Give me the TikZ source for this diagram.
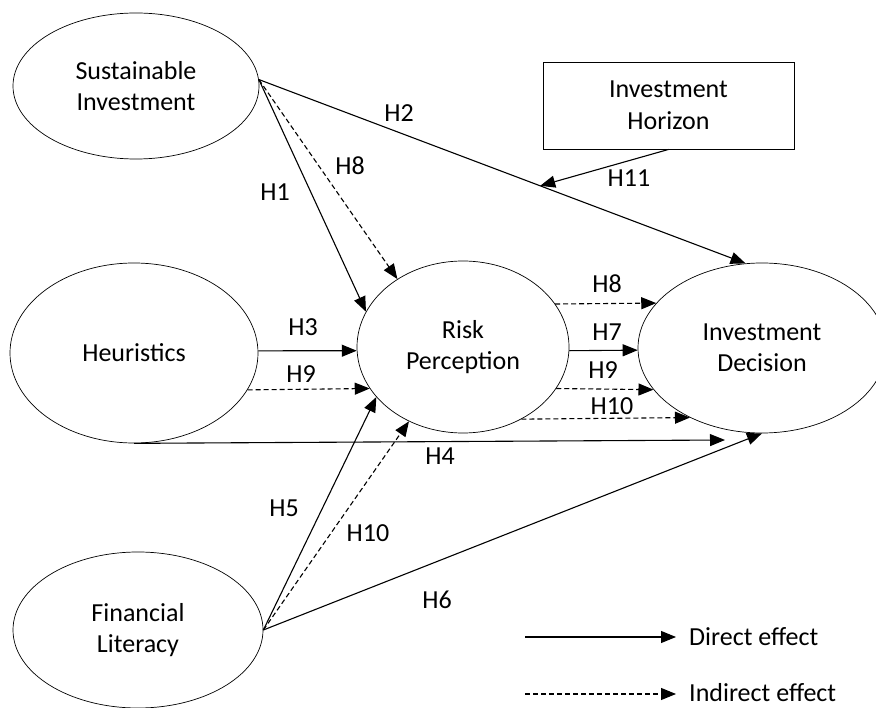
\documentclass[tikz,border=0pt]{standalone}
\usepackage{fontspec}
\setmainfont{Carlito}
\usetikzlibrary{arrows.meta,shapes.geometric}
\begin{document}
\begin{tikzpicture}[x=1pt,y=-1pt,
  ell/.style={draw, ellipse, line width=0.7pt, inner sep=0pt, align=center, font=\fontsize{26}{31.5}\selectfont},
  box/.style={draw, rectangle, line width=0.9pt, inner sep=0pt, align=center, font=\fontsize{26}{31.5}\selectfont},
  lbl/.style={font=\fontsize{26}{31.5}\selectfont, inner sep=0pt},
  dir/.style={line width=1.1pt, -{Triangle[length=15pt,width=12pt]}},
  ind/.style={dir, dash pattern=on 5pt off 3pt}]
\useasboundingbox (0,0) rectangle (876,708);
\fill[white] (0,0) rectangle (876,708);

% constructs
\node[ell, minimum width=246pt, minimum height=146pt] (si) at (136,86) {Sustainable\\Investment};
\node[ell, minimum width=248pt, minimum height=180pt] (he) at (134,353) {Heuristics};
\node[ell, minimum width=250pt, minimum height=156pt] (fl) at (138,630) {Financial\\Literacy};
\node[ell, minimum width=212pt, minimum height=172pt] (rp) at (463,347) {Risk\\Perception};
\node[ell, minimum width=248pt, minimum height=170pt] (id) at (762,348) {Investment\\Decision};
\node[box, minimum width=251pt, minimum height=87pt] (ih) at (668.5,105.5) {Investment\\Horizon};

% paths
\draw[dir] (si.3) -- (id.101) coordinate[pos=0.578] (h11end);
\draw[dir] (ih.south) -- (h11end);
\draw[dir] (si.3) -- (rp.160);
\draw[ind] (si.3) -- (rp.134);
\draw[dir] (he.1) -- (rp.182);
\draw[ind] (he.342) -- (rp.204);
\coordinate (h4end) at (725,440);
\draw[dir] (he.south) -- (h4end);
\draw[dir] (fl.east) -- (rp.210);
\draw[ind] (fl.east) -- (rp.234);
\draw[dir] (fl.east) -- (id.south);
\draw[ind] (rp.25) -- (id.157);
\draw[dir] (rp.358) -- (id.181);
\draw[ind] (rp.336) -- (id.201);
\draw[ind] (rp.309) -- (id.224);

% labels
\node[lbl] (l2) at (399,113) {H2};
\node[lbl] (l8a) at (350,166) {H8};
\node[lbl] (l1) at (275,192) {H1};
\node[lbl] (l11) at (629,178) {H11};
\node[lbl] (l8b) at (607,284) {H8};
\node[lbl] (l3) at (303,327) {H3};
\node[lbl] (l9a) at (301,374) {H9};
\node[lbl] (l7) at (607,332) {H7};
\node[lbl] (l9b) at (603,370) {H9};
\node[lbl] (l10b) at (612,406) {H10};
\node[lbl] (l4) at (440,456) {H4};
\node[lbl] (l5) at (284,508) {H5};
\node[lbl] (l10a) at (368,533) {H10};
\node[lbl] (l6) at (437,600) {H6};

% legend
\coordinate (da) at (525,637);
\coordinate (db) at (676,637);
\coordinate (ia) at (525,694);
\coordinate (ib) at (676,694);
\draw[dir] (da) -- (db);
\draw[ind] (ia) -- (ib);
\node[lbl, anchor=west] (dl) at (689,637) {Direct effect};
\node[lbl, anchor=west] (il) at (689,693) {Indirect effect};
\end{tikzpicture}
\end{document}
